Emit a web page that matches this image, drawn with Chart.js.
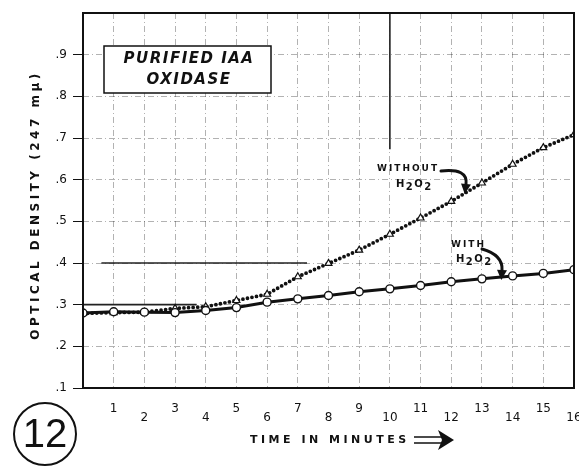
<!DOCTYPE html>
<html>
<head>
<meta charset="utf-8">
<script src="https://cdn.jsdelivr.net/npm/chart.js@4.4.0/dist/chart.umd.min.js"></script>
<style>
  html, body { margin: 0; padding: 0; background: #fff; }
  #wrap { width: 579px; height: 470px; }
</style>
</head>
<body>
<div id="wrap"><canvas id="odChart" width="579" height="470"></canvas></div>
<script>
// Time in minutes
const minutes = [0, 1, 2, 3, 4, 5, 6, 7, 8, 9, 10, 11, 12, 13, 14, 15, 16];

// Optical density at 247 mu
const withH2O2 = [0.280, 0.283, 0.282, 0.281, 0.286, 0.293, 0.306, 0.314, 0.322, 0.331, 0.338, 0.346, 0.355, 0.362, 0.369, 0.375, 0.384];
const withoutH2O2 = [0.279, 0.281, 0.282, 0.291, 0.295, 0.310, 0.325, 0.367, 0.399, 0.431, 0.469, 0.508, 0.548, 0.592, 0.637, 0.677, 0.708];

// Tick labels
const xTickLabels = ['', '1', '2', '3', '4', '5', '6', '7', '8', '9', '10', '11', '12', '13', '14', '15', '16'];
const yTickLabels = ['.1', '.2', '.3', '.4', '.5', '.6', '.7', '.8', '.9', ''];

// Heavier ruled segments printed on the graph paper
const ruleAt03 = [{x: 0, y: 0.3}, {x: 3.7, y: 0.3}];
const ruleAt04 = [{x: 0.6, y: 0.4}, {x: 7.3, y: 0.4}];
const ruleAt10min = [{x: 10, y: 1.0}, {x: 10, y: 0.673}];

const toPoints = (vals) => vals.map((v, i) => ({x: minutes[i], y: v}));

// writes H2O2 with lowered 2s
function drawFormula(ctx, x, y, size) {
    ctx.font = 'bold ' + size + 'px "DejaVu Sans"';
    ctx.textAlign = 'left';
    ctx.textBaseline = 'middle';
    const parts = [['H', 0], ['2', 3], ['O', 0], ['2', 3]];
    let cx = x;
    parts.forEach(([t, dy]) => {
        ctx.fillText(t, cx, y + dy);
        cx += ctx.measureText(t).width + 1.5;
    });
}

function drawCurvedArrow(ctx, x0, y0, cx, cy, x1, y1) {
    ctx.lineWidth = 3;
    ctx.lineCap = 'round';
    ctx.beginPath();
    ctx.moveTo(x0, y0);
    ctx.quadraticCurveTo(cx, cy, x1, y1);
    ctx.stroke();
    // arrow head along the end tangent
    const ang = Math.atan2(y1 - cy, x1 - cx);
    const len = 10, half = 5;
    const tx = x1 + Math.cos(ang) * len, ty = y1 + Math.sin(ang) * len;
    ctx.beginPath();
    ctx.moveTo(tx, ty);
    ctx.lineTo(x1 + Math.cos(ang + Math.PI / 2) * half, y1 + Math.sin(ang + Math.PI / 2) * half);
    ctx.lineTo(x1 - Math.cos(ang + Math.PI / 2) * half, y1 - Math.sin(ang + Math.PI / 2) * half);
    ctx.closePath();
    ctx.fill();
}

const paperMarks = {
    id: 'paperMarks',
    afterDraw(chart) {
        const {ctx, chartArea: a} = chart;
        ctx.save();
        ctx.strokeStyle = '#111';
        ctx.fillStyle = '#111';

        // frame
        ctx.lineWidth = 2;
        ctx.strokeRect(a.left, a.top, a.right - a.left, a.bottom - a.top);

        // title box
        ctx.fillStyle = '#fff';
        ctx.fillRect(104, 46, 167, 47);
        ctx.lineWidth = 1.5;
        ctx.strokeRect(104, 46, 167, 47);
        ctx.fillStyle = '#111';
        ctx.font = 'italic bold 15px "DejaVu Sans"';
        ctx.letterSpacing = '1.5px';
        ctx.textAlign = 'center';
        ctx.textBaseline = 'middle';
        ctx.fillText('PURIFIED IAA', 189, 59);
        ctx.fillText('OXIDASE', 189, 80);

        // y axis title
        ctx.save();
        ctx.translate(36, 205);
        ctx.rotate(-Math.PI / 2);
        ctx.font = 'bold 12px "DejaVu Sans"';
        ctx.letterSpacing = '3.5px';
        ctx.fillText('OPTICAL DENSITY (247 m\u03bc)', 0, 0);
        ctx.restore();

        // x axis title and its double arrow
        ctx.font = 'bold 11px "DejaVu Sans"';
        ctx.letterSpacing = '3.5px';
        ctx.textAlign = 'left';
        ctx.fillText('TIME IN MINUTES', 250, 440);
        ctx.letterSpacing = '0px';
        ctx.lineWidth = 1.6;
        ctx.beginPath();
        ctx.moveTo(414, 437); ctx.lineTo(444, 437);
        ctx.moveTo(414, 443); ctx.lineTo(444, 443);
        ctx.stroke();
        ctx.beginPath();
        ctx.moveTo(454, 440); ctx.lineTo(438, 430); ctx.lineTo(442, 440); ctx.lineTo(438, 450);
        ctx.closePath();
        ctx.fill();

        // curve labels
        ctx.font = 'bold 9px "DejaVu Sans"';
        ctx.letterSpacing = '2px';
        ctx.textAlign = 'left';
        ctx.fillText('WITHOUT', 377, 169);
        ctx.letterSpacing = '0px';
        drawFormula(ctx, 396, 184, 10);
        drawCurvedArrow(ctx, 441, 171, 468, 168, 466, 184);

        ctx.font = 'bold 9px "DejaVu Sans"';
        ctx.letterSpacing = '2px';
        ctx.fillText('WITH', 451, 245);
        ctx.letterSpacing = '0px';
        drawFormula(ctx, 456, 259, 10);
        drawCurvedArrow(ctx, 482, 249, 503, 255, 502, 270);

        // figure number
        ctx.lineWidth = 2;
        ctx.beginPath();
        ctx.arc(45, 434, 31, 0, Math.PI * 2);
        ctx.stroke();
        ctx.font = '40px "Liberation Sans"';
        ctx.textAlign = 'center';
        ctx.fillText('12', 45, 436);

        ctx.restore();
    }
};

const ruleStyle = {
    type: 'line',
    borderColor: '#222',
    borderWidth: 1.6,
    pointRadius: 0,
    fill: false,
    order: 5
};

new Chart(document.getElementById('odChart'), {
    type: 'line',
    data: {
        datasets: [
            {
                label: 'With H2O2',
                data: toPoints(withH2O2),
                borderColor: '#111',
                borderWidth: 3,
                pointStyle: 'circle',
                pointRadius: 4,
                pointBackgroundColor: '#fff',
                pointBorderColor: '#111',
                pointBorderWidth: 1.4,
                tension: 0,
                order: 0
            },
            {
                label: 'Without H2O2',
                data: toPoints(withoutH2O2),
                borderColor: '#111',
                borderWidth: 3.8,
                borderDash: [0, 4.6],
                borderCapStyle: 'round',
                pointStyle: 'triangle',
                pointRadius: 4,
                pointBackgroundColor: '#fff',
                pointBorderColor: '#111',
                pointBorderWidth: 1.2,
                tension: 0,
                order: 1
            },
            Object.assign({data: ruleAt03}, ruleStyle),
            Object.assign({data: ruleAt04}, ruleStyle),
            Object.assign({data: ruleAt10min}, ruleStyle)
        ]
    },
    options: {
        responsive: false,
        animation: false,
        layout: {
            autoPadding: false,
            padding: {top: 13, right: 5, left: 0, bottom: 0}
        },
        plugins: {
            legend: {display: false},
            tooltip: {enabled: false}
        },
        scales: {
            x: {
                type: 'linear',
                min: 0,
                max: 16,
                afterFit: (scale) => {
                    scale.height = 82;
                    scale.paddingLeft = 0;
                    scale.paddingRight = 0;
                },
                grid: {
                    color: 'rgba(0, 0, 0, 0.3)',
                    lineWidth: 1,
                    drawTicks: false
                },
                border: {display: false, dash: [6, 3, 1, 3]},
                ticks: {
                    stepSize: 1,
                    padding: 16,
                    color: '#111',
                    maxRotation: 0,
                    autoSkip: false,
                    font: {family: 'DejaVu Sans', size: 12, lineHeight: 0.75},
                    callback: (value, index) => {
                        const lbl = xTickLabels[index];
                        return index % 2 === 0 ? ['', lbl] : lbl;
                    }
                }
            },
            y: {
                min: 0.1,
                max: 1.0,
                afterFit: (scale) => {
                    scale.width = 83;
                    scale.paddingTop = 0;
                    scale.paddingBottom = 0;
                },
                grid: {
                    color: 'rgba(0, 0, 0, 0.3)',
                    lineWidth: 1,
                    tickLength: 10,
                    tickColor: (c) => (c.index === yTickLabels.length - 1 ? 'rgba(0,0,0,0)' : '#111')
                },
                border: {display: false, dash: [6, 3, 1, 3]},
                ticks: {
                    stepSize: 0.1,
                    padding: 6,
                    color: '#111',
                    font: {family: 'DejaVu Sans', size: 12},
                    callback: (value, index) => yTickLabels[index]
                }
            }
        }
    },
    plugins: [paperMarks]
});
</script>
</body>
</html>
